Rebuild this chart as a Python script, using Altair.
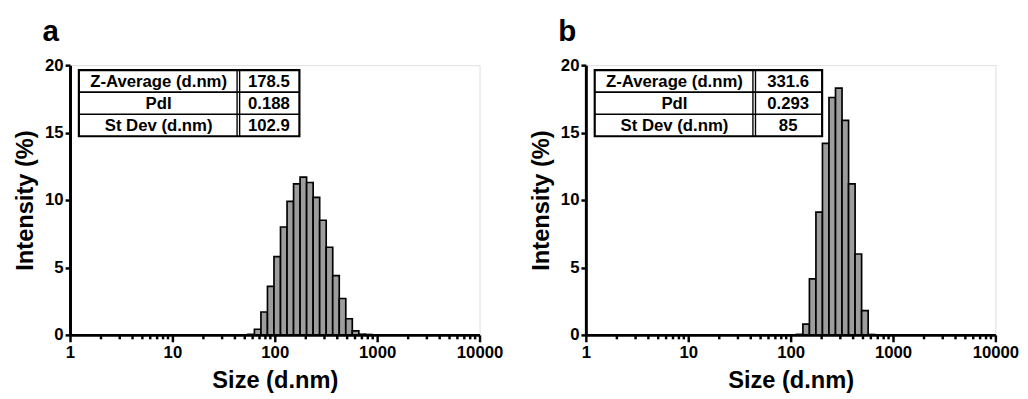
import altair as alt
import pandas as pd

# ---- data ----
sizes_a = [58.77, 68.06, 78.82, 91.28, 105.7, 122.4, 141.8, 164.2, 190.1, 220.2,
           255.0, 295.3, 342.0, 396.1, 458.7, 531.2, 615.1, 712.4, 825.0]
intensity_a = [0.04, 0.42, 1.7, 3.6, 5.8, 8.0, 9.9, 11.2, 11.7, 11.3,
               10.2, 8.5, 6.5, 4.4, 2.7, 1.2, 0.3, 0.05, 0.03]

sizes_b = [122.4, 141.8, 164.2, 190.1, 220.2, 255.0, 295.3, 342.0, 396.1, 458.7,
           531.2, 615.1]
intensity_b = [0.04, 0.8, 4.15, 9.1, 14.2, 17.6, 18.3, 15.9, 11.2, 6.0, 1.8, 0.03]

major_ticks = [1, 10, 100, 1000, 10000]
minor_ticks = [m * d for d in [1, 10, 100, 1000] for m in range(2, 10)]
y_ticks = [0, 5, 10, 15, 20]

table_labels = ["Z-Average (d.nm)", "PdI", "St Dev (d.nm)"]
table_a = ["178.5", "0.188", "102.9"]
table_b = ["331.6", "0.293", "85"]

BIN_RATIO = 1.1583  # geometric spacing of the size classes
FONT = "Liberation Sans"
W, H = 416, 274

major_test = "indexof([1,10,100,1000,10000], datum.value) >= 0"


def panel(letter, sizes, vals, tvals, t_right):
    df = pd.DataFrame({"size": sizes, "intensity": vals})
    bars = (
        alt.Chart(df)
        .transform_calculate(
            lo=f"datum.size / sqrt({BIN_RATIO})",
            hi=f"datum.size * sqrt({BIN_RATIO})",
        )
        .mark_rect(fill="#9d9d9d", stroke="black", strokeWidth=1.7)
        .encode(
            x=alt.X(
                "lo:Q",
                scale=alt.Scale(type="log", domain=[1, 10000], nice=False),
                axis=alt.Axis(
                    values=major_ticks + minor_ticks,
                    labelExpr=f"{major_test} ? format(datum.value, 'd') : ''",
                    tickSize={"condition": {"test": major_test, "value": 7}, "value": 4},
                    tickWidth=2.5,
                    tickColor="black",
                    domainWidth=3,
                    domainColor="black",
                    labelFont=FONT,
                    labelFontSize=17,
                    labelFontWeight="bold",
                    labelColor="black",
                    labelFlush=False,
                    labelOverlap=False,
                    labelPadding=3,
                    title="Size (d.nm)",
                    titleFont=FONT,
                    titleFontSize=24,
                    titleFontWeight="bold",
                    titleColor="black",
                    titlePadding=8,
                    grid=False,
                ),
            ),
            x2="hi:Q",
            y=alt.Y(
                "intensity:Q",
                scale=alt.Scale(domain=[0, 20], nice=False, zero=True),
                axis=alt.Axis(
                    values=y_ticks,
                    tickSize=5,
                    tickWidth=2.5,
                    tickColor="black",
                    domainWidth=3,
                    domainColor="black",
                    labelFont=FONT,
                    labelFontSize=17,
                    labelFontWeight="bold",
                    labelColor="black",
                    labelPadding=2,
                    title="Intensity (%)",
                    titleFont=FONT,
                    titleFontSize=24,
                    titleFontWeight="bold",
                    titleColor="black",
                    titlePadding=7,
                    grid=False,
                ),
            ),
            y2=alt.datum(0),
        )
    )

    # table geometry (pixels inside the plot area)
    L, DIV, R = 9, 171, t_right
    T, RH = 5, 22.4
    B = T + RH * len(table_labels)
    dummy = pd.DataFrame({"k": [0]})
    layers = [bars]
    layers.append(
        alt.Chart(dummy).mark_rect(fill="white", stroke="black", strokeWidth=2.2).encode(
            x=alt.value(L), x2=alt.value(R), y=alt.value(T), y2=alt.value(B)
        )
    )
    for i in range(1, len(table_labels)):
        layers.append(
            alt.Chart(dummy).mark_rule(color="black", strokeWidth=1.6).encode(
                x=alt.value(L), x2=alt.value(R), y=alt.value(T + RH * i)
            )
        )
    for dx in (DIV - 1.3, DIV + 1.3):
        layers.append(
            alt.Chart(dummy).mark_rule(color="black", strokeWidth=1.4).encode(
                x=alt.value(dx), y=alt.value(T), y2=alt.value(B)
            )
        )
    for i, (lab, val) in enumerate(zip(table_labels, tvals)):
        row = pd.DataFrame({"label": [lab], "value": [val]})
        yc = T + RH * (i + 0.5) + 1
        layers.append(
            alt.Chart(row).mark_text(font=FONT, fontSize=17, fontWeight="bold",
                                     color="black", baseline="middle", align="center").encode(
                x=alt.value((L + DIV) / 2), y=alt.value(yc), text="label:N"
            )
        )
        layers.append(
            alt.Chart(row).mark_text(font=FONT, fontSize=17, fontWeight="bold",
                                     color="black", baseline="middle", align="center").encode(
                x=alt.value((DIV + R) / 2), y=alt.value(yc), text="value:N"
            )
        )
    # panel letter
    layers.append(
        alt.Chart(pd.DataFrame({"letter": [letter]}))
        .mark_text(font=FONT, fontSize=30, fontWeight="bold", color="black",
                   align="left", baseline="alphabetic")
        .encode(x=alt.value(-28), y=alt.value(-25), text="letter:N")
    )

    return alt.layer(*layers).properties(width=W, height=H)


chart = (
    alt.hconcat(
        panel("a", sizes_a, intensity_a, table_a, 233),
        panel("b", sizes_b, intensity_b, table_b, 240),
        spacing=25,
    )
    .properties(padding={"left": 5, "top": 5, "right": 0, "bottom": 0})
    .configure_view(stroke=None)
    .configure(background="white")
)

chart.save("out.html", embed_options={"renderer": "svg", "actions": False})
